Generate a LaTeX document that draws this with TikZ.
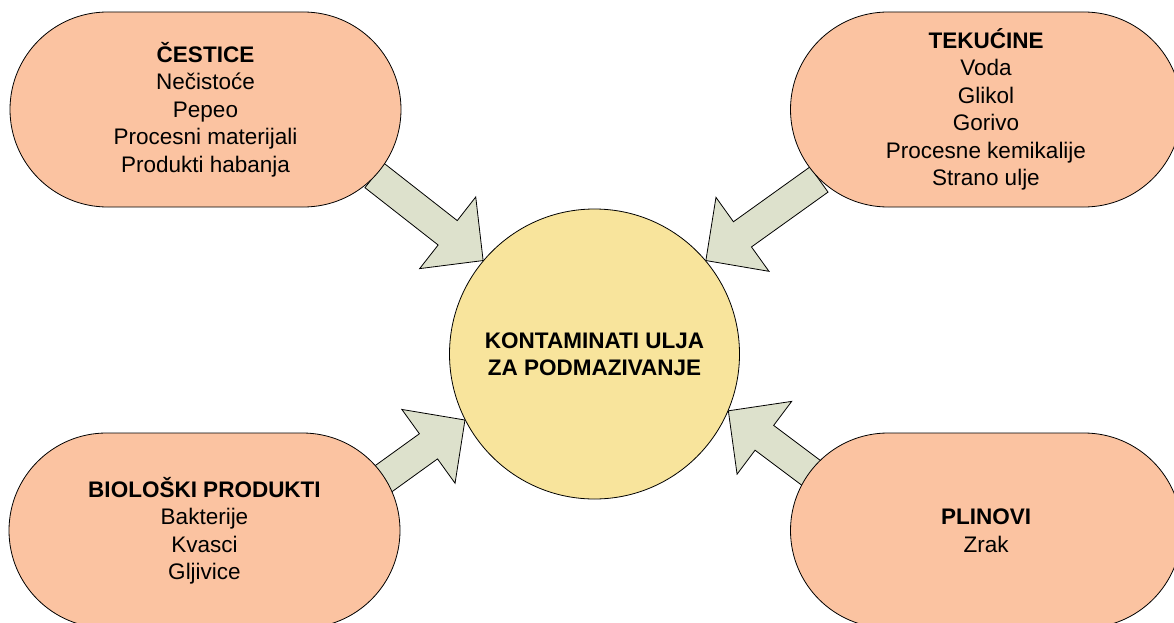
\documentclass[tikz,border=0pt]{standalone}
\usepackage{fontspec}
\setmainfont{Liberation Sans}
\usetikzlibrary{shapes.misc,calc,backgrounds}
\definecolor{boxfill}{RGB}{251,195,161}
\definecolor{circfill}{RGB}{248,228,156}
\definecolor{arrfill}{RGB}{221,225,204}
\tikzset{
  catbox/.style={draw=black, line width=0.8pt, fill=boxfill, rounded rectangle,
    minimum width=391pt, minimum height=195pt, inner sep=0pt, align=center,
    font=\fontsize{22.5}{27.5}\selectfont},
  hub/.style={draw=black, line width=0.8pt, circle, fill=circfill, minimum size=290pt,
    inner sep=0pt, align=center, font=\bfseries\fontsize{22.5}{27}\selectfont},
  blockarrow/.style={draw=black, line width=0.8pt, fill=arrfill, line join=miter},
}
\newcommand\BlockArrow[2]{%
  \path ($(#2)!45pt!(#1)$) coordinate (h);
  \draw[blockarrow]
    ($(#1)!15.5pt!90:(#2)$) -- ($(h)!15.5pt!90:(#2)$) -- ($(h)!45.5pt!90:(#2)$)
    -- (#2) -- ($(h)!45.5pt!-90:(#2)$) -- ($(h)!15.5pt!-90:(#2)$)
    -- ($(#1)!15.5pt!-90:(#2)$) -- cycle;
}
\begin{document}
\begin{tikzpicture}[x=1pt,y=-1pt]
\useasboundingbox (0,0) rectangle (1174,623);
\node[catbox] (cest) at (205.5,109.5) {\textbf{ČESTICE}\\Nečistoće\\Pepeo\\Procesni materijali\\Produkti habanja};
\node[catbox] (tek) at (986,109.5) {\textbf{TEKUĆINE}\\Voda\\Glikol\\Gorivo\\Procesne kemikalije\\Strano ulje};
\node[catbox] (bio) at (204.5,530.5) {\textbf{BIOLOŠKI PRODUKTI}\\Bakterije\\Kvasci\\Gljivice};
\node[catbox] (plin) at (986,530.5) {\textbf{PLINOVI}\\Zrak};
\node[hub] (c) at (594.5,354) {KONTAMINATI ULJA\\ZA PODMAZIVANJE};
\coordinate (t1) at (374.5,175.5);
\coordinate (t2) at (819,179.5);
\coordinate (t3) at (354,500);
\coordinate (t4) at (840,494.5);
\begin{pgfonlayer}{background}
\BlockArrow{t1}{c.140.4}
\BlockArrow{t2}{c.40.8}
\BlockArrow{t3}{c.207.5}
\BlockArrow{t4}{c.-23.5}
\end{pgfonlayer}
\end{tikzpicture}
\end{document}
